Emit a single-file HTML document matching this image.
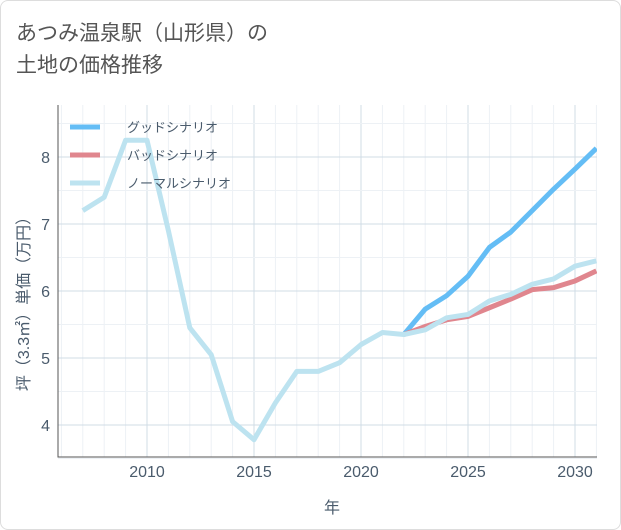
<!DOCTYPE html>
<html><head><meta charset="utf-8"><style>
body{margin:0;background:#fff;font-family:"Liberation Sans","Noto Sans CJK JP",sans-serif;}
#wrap{position:relative;width:621px;height:530px;}
.frame{position:absolute;left:0;top:0;width:619px;height:528px;border:1px solid #ddd;border-radius:8px;}
.title{position:absolute;left:16px;top:18px;font-size:21px;line-height:32px;color:#555;}
</style></head><body>
<div id="wrap">
<div class="frame"></div>
<div class="title">あつみ温泉駅（山形県）の<br>土地の価格推移</div>
<svg id="chart" width="621" height="530" style="position:absolute;left:0;top:0"></svg>
</div>
<script>
const years=[2007,2008,2009,2010,2011,2012,2013,2014,2015,2016,2017,2018,2019,2020,2021,2022,2023,2024,2025,2026,2027,2028,2029,2030,2031];
const normalVals=[7.2,7.4,8.25,8.25,6.9,5.45,5.05,4.05,3.78,4.33,4.8,4.8,4.93,5.2,5.38,5.35,5.42,5.6,5.65,5.85,5.95,6.1,6.18,6.37,6.45];
const futureYears=[2022,2023,2024,2025,2026,2027,2028,2029,2030,2031];
const goodVals=[5.35,5.73,5.93,6.22,6.65,6.88,7.2,7.52,7.82,8.13];
const badVals=[5.35,5.47,5.57,5.62,5.75,5.88,6.02,6.05,6.15,6.3];
const xTicks=[2010,2015,2020,2025,2030];
const yTicks=[4,5,6,7,8];
const legendLabels=["グッドシナリオ","バッドシナリオ","ノーマルシナリオ"];
const NS="http://www.w3.org/2000/svg";
const svg=document.getElementById('chart');
const L=58,R=597,T=105,B=457;
const x=v=>147+(v-2010)*21.4;
const y=v=>157+(8-v)*67;
function mk(t,a){const e=document.createElementNS(NS,t);for(const k in a)e.setAttribute(k,a[k]);svg.appendChild(e);return e;}
for(let yr=2006;yr<=2031;yr++){const g=mk('line',{x1:x(yr),x2:x(yr),y1:T,y2:B,stroke:xTicks.includes(yr)?'#d0dce6':'#edf1f5','stroke-width':1});

}
for(let v=3.5;v<=8.5;v+=0.5){const g=mk('line',{x1:L,x2:R,y1:y(v),y2:y(v),stroke:Number.isInteger(v)?'#d0dce6':'#edf1f5','stroke-width':1});

}
const ax=mk('path',{d:`M${L} ${T}V${B}H${R}`,fill:'none',stroke:'#555','stroke-width':1});


xTicks.forEach(v=>{const t=mk('text',{x:x(v),y:477,'text-anchor':'middle','font-size':16,fill:'#4a5b6c'});t.textContent=v;

});
yTicks.forEach(v=>{const t=mk('text',{x:50,y:y(v)+6,'text-anchor':'end','font-size':16,fill:'#4a5b6c'});t.textContent=v;

});
const xt=mk('text',{x:332,y:513,'text-anchor':'middle','font-size':16,fill:'#4a5b6c'});xt.textContent='年';


const yt=mk('text',{x:0,y:0,'text-anchor':'middle','font-size':16,fill:'#4a5b6c',transform:'translate(29,300) rotate(-90)'});yt.textContent='坪（3.3㎡）単価（万円）';


const defs=mk('defs',{});defs.innerHTML=`<clipPath id="clip"><rect x="${L}" y="${T}" width="${R-L}" height="${B-T}"/></clipPath>`;
function line(xs,vs,color,name){const p=mk('path',{d:xs.map((yr,i)=>(i?'L':'M')+x(yr)+' '+y(vs[i])).join(''),fill:'none',stroke:color,'stroke-width':5,'stroke-linejoin':'round','clip-path':'url(#clip)'});

}
line(futureYears,goodVals,'#64bdf5','good-scenario-line');
line(futureYears,badVals,'#e0868e','bad-scenario-line');
line(years,normalVals,'#bde3f0','normal-scenario-line');
const lc=['#64bdf5','#e0868e','#bde3f0'];
legendLabels.forEach((s,i)=>{const yy=127+i*28;
const l=mk('line',{x1:70,x2:100,y1:yy,y2:yy,stroke:lc[i],'stroke-width':5});


const t=mk('text',{x:127,y:yy+5,'font-size':13,fill:'#4a5b6c'});t.textContent=s;

});
</script>
</body></html>
